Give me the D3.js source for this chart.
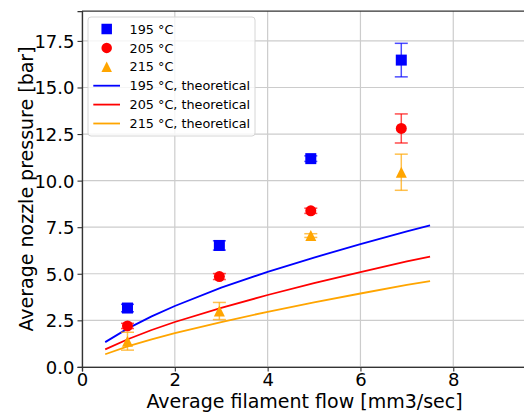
<!DOCTYPE html>
<html>
<head>
<meta charset="utf-8">
<script src="https://cdn.jsdelivr.net/npm/d3@7"></script>
<style>
  html, body { margin: 0; padding: 0; background: #fff; }
  svg { display: block; font-family: "DejaVu Sans", sans-serif; }
</style>
</head>
<body>
<svg id="chart" width="524" height="412"></svg>
<script>
// Measured nozzle pressure per temperature
const flow = [0.98, 2.96, 4.93, 6.88];
const temps = ["195 °C", "205 °C", "215 °C"];
const colors = ["#0000ff", "#ff0000", "#ffa500"];
const markers = ["square", "circle", "triangle"];
const p195 = [3.16, 6.52, 11.18, 16.47];
const p205 = [2.20, 4.85, 8.38, 12.80];
const p215 = [1.38, 3.00, 7.05, 10.45];
const e195 = [0.20, 0.25, 0.15, 0.90];
const e205 = [0.14, 0.16, 0.14, 0.78];
const e215 = [0.48, 0.46, 0.10, 0.97];

// Theoretical curves
const flowTheory = [0.5, 1, 1.5, 2, 3, 4, 5, 6, 7, 7.5];
const t195 = [1.33, 2.08, 2.71, 3.27, 4.26, 5.10, 5.87, 6.59, 7.27, 7.60];
const t205 = [0.94, 1.50, 1.98, 2.41, 3.17, 3.86, 4.50, 5.09, 5.66, 5.92];
const t215 = [0.68, 1.11, 1.48, 1.81, 2.41, 2.96, 3.47, 3.94, 4.40, 4.61];

const xTicks = [0, 2, 4, 6, 8];
const yTicks = [0, 2.5, 5, 7.5, 10, 12.5, 15, 17.5];
const xLabel = "Average filament flow [mm3/sec]";
const yLabel = "Average nozzle pressure [bar]";

const measured = [p195, p205, p215];
const errors = [e195, e205, e215];
const theory = [t195, t205, t215];

const svg = d3.select("#chart");
const plotL = 82, plotR = 536.8, plotT = 11.1, plotB = 366.9;
const x = d3.scaleLinear().domain([0, 9.8]).range([plotL, plotR]);
const y = d3.scaleLinear().domain([0, 19.1]).range([plotB, plotT]);

// grid
const grid = svg.append("g").attr("stroke", "#cccccc").attr("stroke-width", 1.2);
grid.selectAll("line.gx").data(xTicks).join("line")
  .attr("x1", d => x(d)).attr("x2", d => x(d)).attr("y1", plotT).attr("y2", plotB);
grid.selectAll("line.gy").data(yTicks).join("line")
  .attr("x1", plotL).attr("x2", plotR).attr("y1", d => y(d)).attr("y2", d => y(d));

// axes
const xAxis = d3.axisBottom(x).tickValues(xTicks).tickFormat(d3.format("d")).tickSizeOuter(0).tickSize(4.5).tickPadding(3);
const yAxis = d3.axisLeft(y).tickValues(yTicks).tickFormat(d3.format(".1f")).tickSizeOuter(0).tickSize(4.5).tickPadding(3);
const gx = svg.append("g").attr("transform", `translate(0,${plotB})`).call(xAxis);
const gy = svg.append("g").attr("transform", `translate(${plotL},0)`).call(yAxis);
[gx, gy].forEach(g => {
  g.selectAll("text").attr("font-size", 18).attr("fill", "#000").attr("font-family", "DejaVu Sans");
  g.selectAll(".tick line").attr("stroke", "#333").attr("stroke-width", 1.1);
  g.select(".domain").attr("stroke", "#333").attr("stroke-width", 1.3);
});
gy.selectAll("text").attr("dy", "0.36em");
gx.selectAll("text").attr("dy", "0.64em");
// top spine
svg.append("line").attr("x1", plotL).attr("x2", plotR).attr("y1", plotT).attr("y2", plotT)
  .attr("stroke", "#333").attr("stroke-width", 1.3);

// axis titles
svg.append("text").attr("x", 304.5).attr("y", 408)
  .attr("text-anchor", "middle").attr("font-size", 19).text(xLabel);
svg.append("text").attr("transform", `translate(33,${(plotT + plotB) / 2}) rotate(-90)`)
  .attr("text-anchor", "middle").attr("font-size", 19).text(yLabel);

// theoretical lines
const line = d3.line().x(d => x(d[0])).y(d => y(d[1]));
theory.forEach((vals, i) => {
  svg.append("path").datum(flowTheory.map((f, j) => [f, vals[j]]))
    .attr("d", line).attr("fill", "none").attr("stroke", colors[i]).attr("stroke-width", 1.8);
});

function drawMarker(g, type, cx, cy, color, s) {
  if (type === "square") {
    g.append("rect").attr("x", cx - s / 2).attr("y", cy - s / 2).attr("width", s).attr("height", s).attr("fill", color);
  } else if (type === "circle") {
    g.append("circle").attr("cx", cx).attr("cy", cy).attr("r", s / 2).attr("fill", color);
  } else {
    const h = s / 2;
    g.append("path").attr("d", `M${cx},${cy - h}L${cx + h},${cy + h}L${cx - h},${cy + h}Z`).attr("fill", color);
  }
}

// measured points with error bars
measured.forEach((vals, i) => {
  const g = svg.append("g");
  vals.forEach((v, j) => {
    const cx = x(flow[j]);
    const eb = g.append("g").attr("stroke", colors[i]).attr("stroke-opacity", 0.7).attr("stroke-width", 1.5);
    const lo = y(v - errors[i][j]), hi = y(v + errors[i][j]);
    eb.append("line").attr("x1", cx).attr("x2", cx).attr("y1", lo).attr("y2", hi);
    eb.append("line").attr("x1", cx - 6.5).attr("x2", cx + 6.5).attr("y1", lo).attr("y2", lo);
    eb.append("line").attr("x1", cx - 6.5).attr("x2", cx + 6.5).attr("y1", hi).attr("y2", hi);
    drawMarker(g, markers[i], cx, y(v), colors[i], 11);
  });
});

// legend
const lg = svg.append("g");
lg.append("rect").attr("x", 88).attr("y", 17).attr("width", 167).attr("height", 119)
  .attr("rx", 3).attr("fill", "#fff").attr("fill-opacity", 0.8)
  .attr("stroke", "#d6d6d6").attr("stroke-width", 1);
const rowY = k => 29 + k * 18.9;
temps.forEach((t, i) => {
  drawMarker(lg, markers[i], 106.7, rowY(i), colors[i], 10.5);
  lg.append("text").attr("x", 129.5).attr("y", rowY(i)).attr("dy", "0.36em")
    .attr("font-size", 12.8).text(t);
});
temps.forEach((t, i) => {
  const yy = rowY(i + 3);
  lg.append("line").attr("x1", 93.3).attr("x2", 120).attr("y1", yy).attr("y2", yy)
    .attr("stroke", colors[i]).attr("stroke-width", 1.8);
  lg.append("text").attr("x", 129.5).attr("y", yy).attr("dy", "0.36em")
    .attr("font-size", 12.8).text(t + ", theoretical");
});
</script>
</body>
</html>
